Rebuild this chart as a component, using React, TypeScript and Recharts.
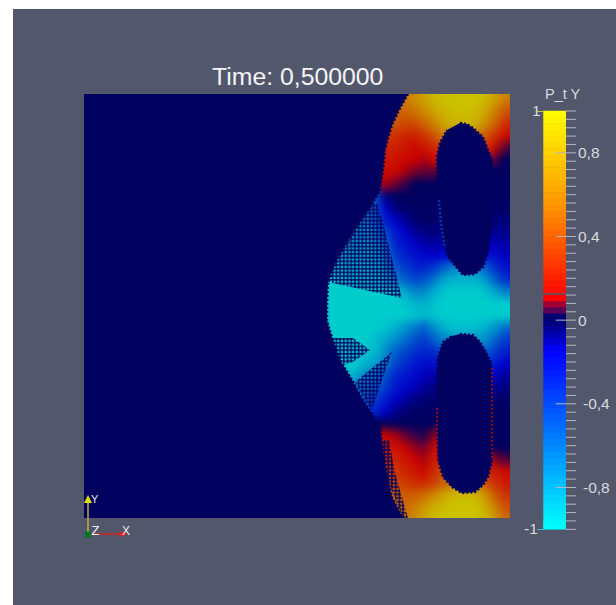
import { Scatter, ScatterChart, XAxis, YAxis } from "recharts";

const BG = "#53576b";
const NAVY = "#00005f";

// mesh columns and rows (mesh units, origin at the lower left of the domain)
const colX = [241, 251, 261, 271, 281, 291, 301, 311, 321, 331, 341, 351, 361, 371, 381, 391, 401, 411, 421, 431];
const rowY = [430, 418, 406, 394, 382, 370, 358, 346, 334, 322, 310, 298, 286, 274, 262, 250, 238, 226, 214, 202, 190, 178, 166, 154, 142, 130, 118, 106, 94, 82, 70, 58, 46, 34, 22, 10, -2, -14];

// P_t Y in hundredths, one list per mesh row, top to bottom
const fieldRows = [
  [45, 45, 45, 45, 45, 45, 45, 45, 55, 65, 80, 90, 92, 95, 95, 95, 92, 80, 65, 60],
  [45, 45, 45, 45, 45, 45, 50, 50, 55, 65, 78, 88, 92, 95, 95, 95, 90, 75, 60, 50],
  [45, 45, 45, 45, 45, 45, 45, 45, 48, 52, 65, 78, 88, 92, 92, 90, 80, 60, 42, 35],
  [40, 40, 40, 40, 40, 40, 42, 42, 38, 38, 48, 62, 80, 85, 88, 85, 68, 48, 28, 22],
  [30, 30, 30, 30, 30, 30, 30, 28, 24, 22, 30, 42, 55, 60, 60, 55, 45, 30, 15, 10],
  [22, 22, 22, 22, 22, 22, 22, 22, 18, 13, 18, 25, 30, 30, 30, 30, 30, 14, 6, 3],
  [18, 18, 18, 18, 18, 18, 18, 17, 13, 10, 9, 13, 12, 10, 10, 10, 10, 5, 1, 0],
  [14, 14, 14, 14, 14, 14, 14, 13, 9, 7, 6, 6, 3, 2, 2, 2, 2, 0, 0, 0],
  [9, 9, 9, 9, 9, 9, 9, 7, 4, 2, 1, 0, 0, 0, 0, 0, 0, 0, 0, 0],
  [-60, -60, -60, -60, -60, -50, -5, 0, 0, 0, 0, 0, 0, 0, 0, 0, 0, 0, 0, 0],
  [-65, -65, -65, -65, -65, -55, -15, -5, -2, 0, 0, -2, -4, -4, -4, -4, -5, -2, -2, -2],
  [-70, -70, -70, -70, -70, -60, -25, -15, -8, -3, -1, -2, -4, -4, -4, -4, -4, -4, -4, -4],
  [-75, -75, -75, -75, -75, -70, -45, -25, -15, -8, -5, -5, -6, -6, -6, -6, -8, -8, -6, -6],
  [-80, -80, -80, -80, -80, -78, -60, -30, -22, -14, -10, -10, -10, -10, -10, -10, -13, -13, -10, -10],
  [-85, -85, -85, -85, -85, -85, -70, -38, -30, -22, -16, -15, -18, -18, -18, -18, -20, -20, -13, -13],
  [-90, -90, -90, -90, -90, -90, -80, -50, -40, -30, -30, -38, -55, -70, -75, -70, -55, -35, -22, -20],
  [-100, -100, -95, -95, -95, -92, -90, -65, -55, -45, -48, -65, -85, -90, -90, -90, -80, -55, -35, -30],
  [-100, -100, -100, -100, -100, -100, -100, -97, -85, -70, -72, -88, -97, -100, -100, -100, -97, -85, -68, -65],
  [-100, -100, -100, -100, -100, -100, -100, -100, -98, -90, -88, -97, -100, -100, -100, -100, -100, -100, -100, -100],
  [-100, -100, -100, -100, -100, -100, -100, -100, -100, -97, -92, -98, -100, -100, -100, -100, -100, -100, -100, -100],
  [-100, -100, -100, -100, -100, -100, -97, -90, -78, -65, -55, -75, -90, -95, -95, -95, -88, -78, -60, -55],
  [-100, -100, -100, -100, -100, -95, -85, -75, -62, -48, -40, -55, -70, -75, -75, -75, -75, -58, -40, -35],
  [-95, -95, -95, -95, -95, -95, -75, -55, -45, -35, -30, -32, -50, -55, -55, -55, -55, -40, -28, -25],
  [-100, -100, -100, -100, -90, -80, -70, -45, -35, -25, -20, -20, -28, -28, -28, -28, -28, -28, -15, -15],
  [-90, -90, -90, -90, -70, -65, -50, -30, -25, -18, -13, -10, -15, -15, -15, -15, -15, -15, -8, -8],
  [-60, -60, -60, -60, -60, -55, -40, -25, -18, -13, -8, -6, -8, -8, -8, -8, -8, -8, -5, -5],
  [-55, -55, -55, -55, -55, -40, -28, -15, -10, -6, -4, -3, -3, -3, -3, -3, -3, -3, -2, -2],
  [-30, -30, -30, -30, -30, -30, -15, -8, -3, 0, 0, 0, 0, 0, 0, 0, 0, 0, 0, 0],
  [2, 2, 2, 2, 2, 2, 2, 1, 0, 0, 0, 0, 0, 0, 0, 0, 0, 0, 0, 0],
  [12, 12, 12, 12, 12, 12, 12, 9, 6, 4, 3, 8, 8, 4, 4, 2, 1, 0, 0, 0],
  [18, 18, 18, 18, 18, 18, 18, 16, 12, 8, 7, 14, 14, 8, 6, 4, 2, 1, 0, 0],
  [25, 25, 25, 25, 25, 25, 25, 24, 18, 12, 9, 20, 25, 25, 25, 20, 12, 8, 5, 5],
  [32, 32, 32, 32, 32, 32, 32, 30, 24, 18, 13, 27, 38, 38, 38, 35, 25, 20, 14, 12],
  [38, 38, 38, 38, 38, 38, 38, 38, 32, 28, 26, 35, 48, 60, 65, 60, 42, 28, 20, 18],
  [45, 45, 45, 45, 45, 45, 45, 45, 45, 45, 52, 65, 80, 88, 90, 88, 72, 45, 30, 28],
  [45, 45, 45, 45, 45, 45, 45, 48, 50, 58, 72, 85, 92, 95, 95, 95, 85, 62, 40, 38],
  [50, 50, 50, 50, 50, 50, 50, 50, 55, 65, 80, 90, 95, 95, 95, 95, 90, 75, 50, 48],
  [50, 50, 50, 50, 50, 50, 50, 50, 55, 65, 80, 90, 95, 95, 95, 95, 90, 75, 50, 48],
];

// outline of the region the front has not reached, and the two holes
const frontX = [0, 324, 315, 308, 304, 301, 299, 296, 289, 279, 269, 261, 253, 248, 244, 243, 243, 245, 248, 256, 268, 279, 296, 298, 301, 308, 319, 0];
const frontY = [424, 424, 408, 393, 380, 368, 348, 328, 315, 300, 285, 272, 258, 246, 235, 215, 198, 190, 181, 158, 138, 118, 91, 75, 51, 21, 0, 0];
const upperHoleX = [376, 383, 389, 399, 404, 408, 409, 408, 404, 399, 391, 379, 373, 364, 359, 356, 354, 353, 356, 363];
const upperHoleY = [395, 394, 390, 381, 368, 358, 328, 295, 265, 251, 244, 243, 250, 261, 278, 301, 328, 361, 375, 388];
const lowerHoleX = [376, 389, 396, 401, 407, 408, 408, 404, 399, 391, 378, 368, 359, 354, 353, 353, 354, 359, 368];
const lowerHoleY = [184, 183, 176, 168, 155, 145, 58, 41, 33, 26, 25, 31, 41, 58, 85, 145, 161, 176, 182];

// patches where the mesh is only partly filled
const patchA = { x: [293, 299, 309, 318, 281, 244, 253, 269, 289], y: [315, 295, 255, 220, 228, 236, 258, 285, 315] };
const patchB = { x: [248, 269, 286, 269, 259, 251], y: [180, 180, 168, 156, 153, 166] };
const patchC = { x: [308, 271, 281, 288, 299], y: [166, 136, 118, 108, 141] };
const patchD = { x: [298, 301, 319, 324, 311, 305], y: [78, 45, 0, 0, 45, 78] };

// broken cell rims on the hole walls
const lowerRimRight = { x: [408, 408], y: [150, 60] };
const lowerRimLeft = { x: [353, 353], y: [110, 55] };
const upperRimLeft = { x: [355, 357, 361], y: [318, 295, 270] };

// colour bar
const barLevels = [
  0.985, 0.955, 0.925, 0.895, 0.865, 0.835, 0.805, 0.775, 0.745, 0.715, 0.685, 0.655, 0.625, 0.595, 0.565, 0.535, 0.505,
  0.475, 0.445, 0.415, 0.385, 0.355, 0.325, 0.295, 0.265, 0.235, 0.205, 0.175, 0.145, 0.105, 0.075, 0.045, 0.015,
  -0.015, -0.045, -0.075, -0.105, -0.135, -0.165, -0.195, -0.225, -0.255, -0.285, -0.315, -0.345, -0.375, -0.405, -0.435,
  -0.465, -0.495, -0.525, -0.555, -0.585, -0.615, -0.645, -0.675, -0.705, -0.735, -0.765, -0.795, -0.825, -0.855, -0.885,
  -0.915, -0.945, -0.975, -0.985,
];
const barTicks = [
  1, 0.96, 0.92, 0.88, 0.84, 0.8, 0.76, 0.72, 0.68, 0.64, 0.6, 0.56, 0.52, 0.48, 0.44, 0.4, 0.36, 0.32, 0.28, 0.24, 0.2, 0.16, 0.12, 0.08, 0.04, 0,
  -0.04, -0.08, -0.12, -0.16, -0.2, -0.24, -0.28, -0.32, -0.36, -0.4, -0.44, -0.48, -0.52, -0.56, -0.6, -0.64, -0.68, -0.72, -0.76, -0.8, -0.84, -0.88, -0.92, -0.96, -1,
];
const labelledTicks: Record<string, string> = { "0.8": "0,8", "0.4": "0,4", "0": "0", "-0.4": "-0,4", "-0.8": "-0,8" };

// colour map stops: value, r, g, b
const stops = [
  [-1, 0, 255, 255],
  [-0.15, 0, 0, 255],
  [-0.02, 0, 0, 128],
  [0.02, 0, 0, 112],
  [0.045, 90, 0, 88],
  [0.075, 160, 0, 48],
  [0.1, 255, 0, 0],
  [0.55, 255, 150, 0],
  [1, 255, 255, 0],
];

function colorOf(v: number, shade = 1) {
  for (let i = 1; i < stops.length; i++) {
    const a = stops[i - 1];
    const b = stops[i];
    if (v <= b[0]) {
      const t = Math.max(0, (v - a[0]) / (b[0] - a[0]));
      const c = [1, 2, 3].map((k) => Math.round((a[k] + (b[k] - a[k]) * t) * shade));
      return `rgb(${c[0]},${c[1]},${c[2]})`;
    }
  }
  return `rgb(${255 * shade},${255 * shade},0)`;
}

const cells = rowY.flatMap((y, r) => colX.map((x, c) => ({ x, y, v: fieldRows[r][c] / 100 })));
const toPoints = (xs: number[], ys: number[]) => xs.map((x, i) => ({ x, y: ys[i] }));

const FieldCell = (props: any) => (
  <rect x={props.cx - 5.5} y={props.cy - 6.5} width={11} height={13} fill={colorOf(props.payload.v, 0.8)} />
);
const NoMark = () => null;

const BarBand = (props: any) => (
  <rect x={543.3} y={props.cy - 3.4} width={22.7} height={6.8} fill={colorOf(props.payload.v)} />
);

const BarTick = (props: any) => {
  const { y, payload } = props;
  const label = labelledTicks[String(payload.value)];
  const negative = payload.value < 0;
  return (
    <g>
      <line x1={label ? 555.7 : 566} x2={576} y1={y} y2={y} stroke="#b4b6c0" strokeWidth={1} />
      {label && (
        <text x={negative ? 583 : 578} y={y} dy={5.5} fontSize={15.5} fill="#d9dae0" fontFamily="Liberation Sans">
          {label}
        </text>
      )}
    </g>
  );
};

// the dashed stroke gives the masks the toothed edge of the cell mesh
const maskLine = { fill: NAVY, stroke: NAVY, strokeWidth: 2.4, strokeDasharray: "2 2" };
const patchLine = { fill: "url(#meshGaps)", stroke: "none" };
const redRim = { fill: "none", stroke: "#b80808", strokeWidth: 1.6, strokeDasharray: "2 2" };
const blueRim = { fill: "none", stroke: "#0838b0", strokeWidth: 2.4, strokeDasharray: "2 2" };

const textStyle = { position: "absolute", fontFamily: "Liberation Sans", whiteSpace: "nowrap", lineHeight: 1 } as const;

export default function App() {
  return (
    <div style={{ position: "absolute", left: 0, top: 0, width: 616, height: 605, overflow: "hidden", background: "#fff" }}>
      <div style={{ position: "absolute", left: 13, top: 9, width: 603, height: 596, background: BG }} />

      <svg width={0} height={0} style={{ position: "absolute" }}>
        <defs>
          <pattern id="meshGaps" width={3.7} height={3.7} patternUnits="userSpaceOnUse">
            <rect x={0} y={0} width={3.7} height={1.6} fill={NAVY} fillOpacity={0.82} />
            <rect x={0} y={0} width={1.6} height={3.7} fill={NAVY} fillOpacity={0.82} />
          </pattern>
        </defs>
      </svg>

      {/* field, softened so the mesh cells read as a smooth shading */}
      <div style={{ position: "absolute", left: 84, top: 94, width: 426, height: 424, overflow: "hidden", background: NAVY }}>
        <div style={{ position: "absolute", left: -16, top: -16, filter: "blur(4px)" }}>
          <ScatterChart width={458} height={456} margin={{ top: 0, right: 0, bottom: 0, left: 0 }}>
            <XAxis type="number" dataKey="x" domain={[-16, 442]} allowDataOverflow hide />
            <YAxis type="number" dataKey="y" domain={[-16, 440]} allowDataOverflow hide />
            <Scatter data={cells} shape={FieldCell} isAnimationActive={false} />
          </ScatterChart>
        </div>
        <div style={{ position: "absolute", left: 0, top: 0 }}>
          <ScatterChart width={426} height={424} margin={{ top: 0, right: 0, bottom: 0, left: 0 }}>
            <XAxis type="number" dataKey="x" domain={[0, 426]} allowDataOverflow hide />
            <YAxis type="number" dataKey="y" domain={[0, 424]} allowDataOverflow hide />
            <Scatter data={toPoints(patchA.x, patchA.y)} shape={NoMark} line={patchLine} isAnimationActive={false} />
            <Scatter data={toPoints(patchB.x, patchB.y)} shape={NoMark} line={patchLine} isAnimationActive={false} />
            <Scatter data={toPoints(patchC.x, patchC.y)} shape={NoMark} line={patchLine} isAnimationActive={false} />
            <Scatter data={toPoints(patchD.x, patchD.y)} shape={NoMark} line={patchLine} isAnimationActive={false} />
            <Scatter data={toPoints(frontX, frontY)} shape={NoMark} line={maskLine} isAnimationActive={false} />
            <Scatter data={toPoints(upperHoleX, upperHoleY)} shape={NoMark} line={maskLine} isAnimationActive={false} />
            <Scatter data={toPoints(lowerHoleX, lowerHoleY)} shape={NoMark} line={maskLine} isAnimationActive={false} />
            <Scatter data={toPoints(lowerRimRight.x, lowerRimRight.y)} shape={NoMark} line={redRim} isAnimationActive={false} />
            <Scatter data={toPoints(lowerRimLeft.x, lowerRimLeft.y)} shape={NoMark} line={redRim} isAnimationActive={false} />
            <Scatter data={toPoints(upperRimLeft.x, upperRimLeft.y)} shape={NoMark} line={blueRim} isAnimationActive={false} />
          </ScatterChart>
        </div>
      </div>

      {/* colour bar */}
      <div style={{ position: "absolute", left: 0, top: 0 }}>
        <ScatterChart width={616} height={605} margin={{ top: 111, right: 0, bottom: 75.7, left: 543.3 }}>
          <XAxis type="number" dataKey="x" domain={[0, 1]} hide />
          <YAxis
            type="number"
            dataKey="v"
            orientation="right"
            width={50}
            domain={[-1, 1]}
            ticks={barTicks}
            interval={0}
            axisLine={false}
            tickLine={false}
            tick={BarTick}
          />
          <Scatter data={barLevels.map((v) => ({ x: 0.5, v }))} shape={BarBand} isAnimationActive={false} />
        </ScatterChart>
      </div>

      <div style={{ ...textStyle, left: 212, top: 65, fontSize: 24.8, color: "#f4f4f8" }}>Time: 0,500000</div>
      <div style={{ ...textStyle, left: 545, top: 87, fontSize: 14.5, color: "#d9dae0" }}>P_t Y</div>
      <div style={{ ...textStyle, left: 532, top: 103, fontSize: 15.5, color: "#d9dae0" }}>1</div>
      <div style={{ ...textStyle, left: 524, top: 521, fontSize: 15.5, color: "#d9dae0" }}>-1</div>
      <div style={{ position: "absolute", left: 537, top: 111, width: 7, height: 1, background: "#c8c840" }} />
      <div style={{ position: "absolute", left: 537, top: 529, width: 7, height: 1, background: "#30c8d0" }} />

      {/* orientation axes */}
      <svg width={616} height={605} style={{ position: "absolute", left: 0, top: 0 }}>
        <line x1={88} x2={88} y1={534} y2={500} stroke="#b8b430" strokeWidth={1.5} />
        <polygon points="88,495 84,503 92,503" fill="#e0dc00" />
        <line x1={88} x2={121} y1={534} y2={534} stroke="#d02020" strokeWidth={1.5} />
        <polygon points="128,534 120,531 120,537" fill="#e02020" />
        <rect x={85} y={531.5} width={6} height={6} fill="#007a20" />
        <text x={91} y={503} fontSize={11} fill="#e8e8ec" fontFamily="Liberation Sans">Y</text>
        <text x={91.5} y={535} fontSize={13} fill="#f4f4f8" fontFamily="Liberation Sans">Z</text>
        <text x={122} y={535} fontSize={12} fill="#e8e8ec" fontFamily="Liberation Sans">X</text>
      </svg>
    </div>
  );
}
